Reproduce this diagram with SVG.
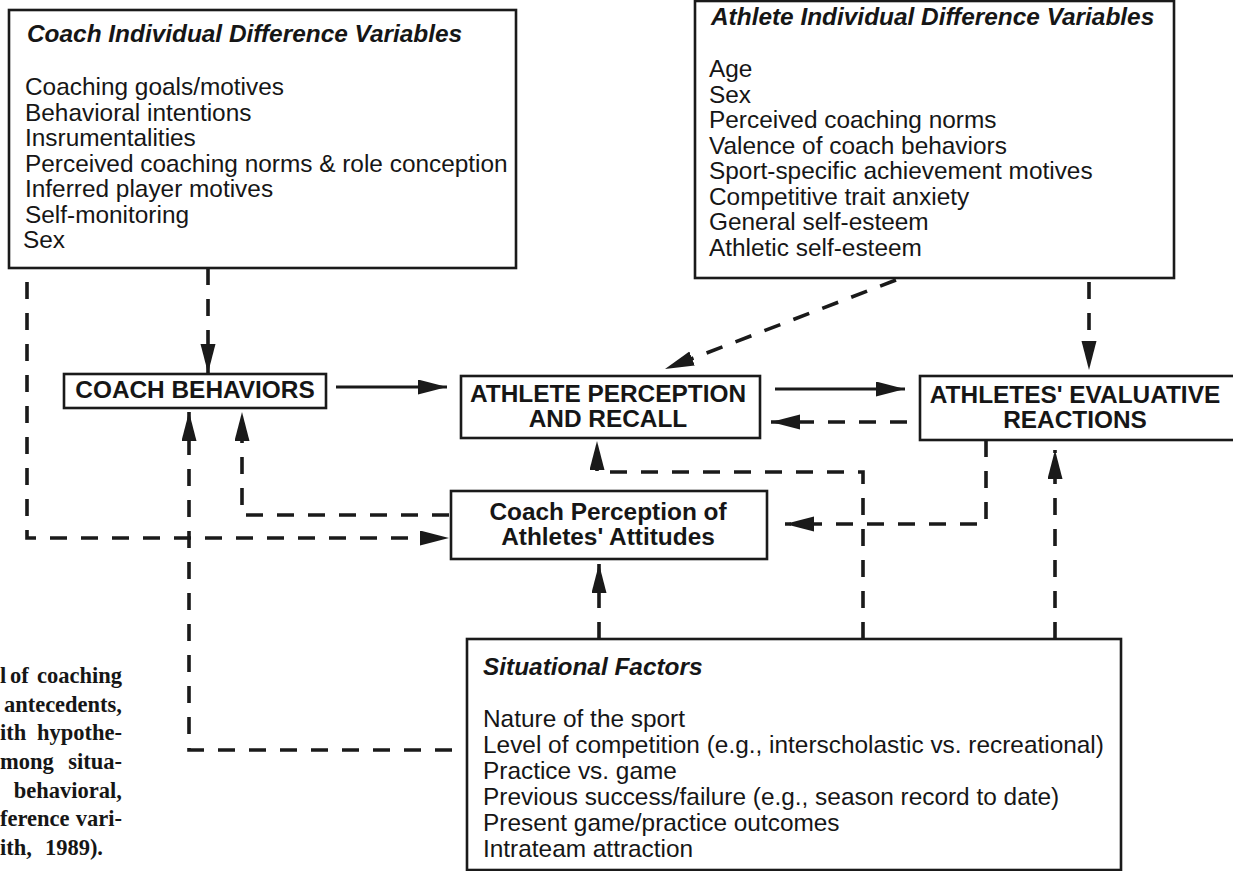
<svg xmlns="http://www.w3.org/2000/svg" width="1233" height="871" viewBox="0 0 1233 871">
<defs>
<style>
.bg{fill:#ffffff}
.box{fill:none;stroke:#1a1a1a;stroke-width:2.6}
.t{font-family:"Liberation Sans",Arial,Helvetica,sans-serif;font-size:24.4px;fill:#161616}
.b{font-weight:bold}
.bi{font-weight:bold;font-style:italic}
.c{text-anchor:middle}
.cap{font-family:"Liberation Serif","Times New Roman",serif;font-weight:bold;font-size:22.5px;fill:#161616}
.e{text-anchor:end}
.ln{fill:none;stroke:#1a1a1a;stroke-width:3;marker-end:url(#ah)}
.dash{stroke-dasharray:17 14;stroke-width:3.6}
</style>
<marker id="ah" markerUnits="userSpaceOnUse" markerWidth="32" markerHeight="16" refX="29" refY="7.5" orient="auto">
<path d="M0,0 L29,7.5 L0,15 Z" fill="#1a1a1a"/>
</marker>
</defs>
<rect class="bg" x="0" y="0" width="1233" height="871"/>

<g id="coach-idv">
<rect class="box" x="9" y="10" width="507" height="258"/>
<text class="t bi" x="27" y="42">Coach Individual Difference Variables</text>
<text class="t" x="25" y="95">Coaching goals/motives</text>
<text class="t" x="25" y="120.5">Behavioral intentions</text>
<text class="t" x="25" y="146">Insrumentalities</text>
<text class="t" x="25" y="171.5">Perceived coaching norms &amp; role conception</text>
<text class="t" x="25" y="197">Inferred player motives</text>
<text class="t" x="25" y="222.5">Self-monitoring</text>
<text class="t" x="23" y="248">Sex</text>
</g>

<g id="athlete-idv">
<rect class="box" x="695" y="1" width="479" height="277"/>
<text class="t bi" x="711" y="25">Athlete Individual Difference Variables</text>
<text class="t" x="709" y="77">Age</text>
<text class="t" x="709" y="102.5">Sex</text>
<text class="t" x="709" y="128">Perceived coaching norms</text>
<text class="t" x="709" y="153.5">Valence of coach behaviors</text>
<text class="t" x="709" y="179">Sport-specific achievement motives</text>
<text class="t" x="709" y="204.5">Competitive trait anxiety</text>
<text class="t" x="709" y="230">General self-esteem</text>
<text class="t" x="709" y="255.5">Athletic self-esteem</text>
</g>

<g id="coach-behaviors">
<rect class="box" x="64" y="374" width="262" height="34"/>
<text class="t b c" x="195" y="398">COACH BEHAVIORS</text>
</g>

<g id="athlete-perception">
<rect class="box" x="461" y="376" width="299" height="62"/>
<text class="t b c" x="608" y="402">ATHLETE PERCEPTION</text>
<text class="t b c" x="608" y="427">AND RECALL</text>
</g>

<g id="athletes-evaluative">
<rect class="box" x="920" y="376" width="330" height="64"/>
<text class="t b c" x="1075" y="403">ATHLETES' EVALUATIVE</text>
<text class="t b c" x="1075" y="428">REACTIONS</text>
</g>

<g id="coach-perception">
<rect class="box" x="451" y="491" width="316" height="68"/>
<text class="t b c" x="608" y="520">Coach Perception of</text>
<text class="t b c" x="608" y="545">Athletes' Attitudes</text>
</g>

<g id="situational">
<rect class="box" x="467" y="639" width="654" height="231"/>
<text class="t bi" x="483" y="675">Situational Factors</text>
<text class="t" x="483" y="727">Nature of the sport</text>
<text class="t" x="483" y="753">Level of competition (e.g., interscholastic vs. recreational)</text>
<text class="t" x="483" y="779">Practice vs. game</text>
<text class="t" x="483" y="805">Previous success/failure (e.g., season record to date)</text>
<text class="t" x="483" y="831">Present game/practice outcomes</text>
<text class="t" x="483" y="857">Intrateam attraction</text>
</g>

<g id="caption">
<text class="cap" x="0" y="683">l</text>
<text class="cap" x="10" y="683">of</text>
<text class="cap e" x="122" y="683">coaching</text>
<text class="cap e" x="122" y="712">antecedents,</text>
<text class="cap" x="0" y="740">ith</text>
<text class="cap e" x="122" y="740">hypothe-</text>
<text class="cap" x="0" y="769">mong</text>
<text class="cap e" x="122" y="769">situa-</text>
<text class="cap e" x="122" y="798">behavioral,</text>
<text class="cap" x="0" y="826">ference</text>
<text class="cap e" x="122" y="826">vari-</text>
<text class="cap" x="0" y="855">ith,</text>
<text class="cap e" x="103" y="855">1989).</text>
</g>

<g id="connectors">
<path class="ln dash" d="M208,268 L208,373"/>
<path class="ln dash" d="M27,282 L27,538 L449,538"/>
<path class="ln" d="M336,387 L447,387"/>
<path class="ln" d="M775,389 L905,389"/>
<path class="ln dash" d="M896,280 L665,369"/>
<path class="ln dash" d="M1089,282 L1089,370"/>
<path class="ln dash" d="M907,422 L771,422"/>
<path class="ln dash" d="M449,515 L242,515 L242,412"/>
<path class="ln dash" d="M452,750 L189,750 L189,412"/>
<path class="ln dash" d="M986,440 L986,524 L785,524"/>
<path class="ln dash" d="M863,639 L863,472 L597,472 L597,441"/>
<path class="ln dash" d="M1055,639 L1055,450"/>
<path class="ln dash" d="M599,639 L599,564"/>
</g>
</svg>
